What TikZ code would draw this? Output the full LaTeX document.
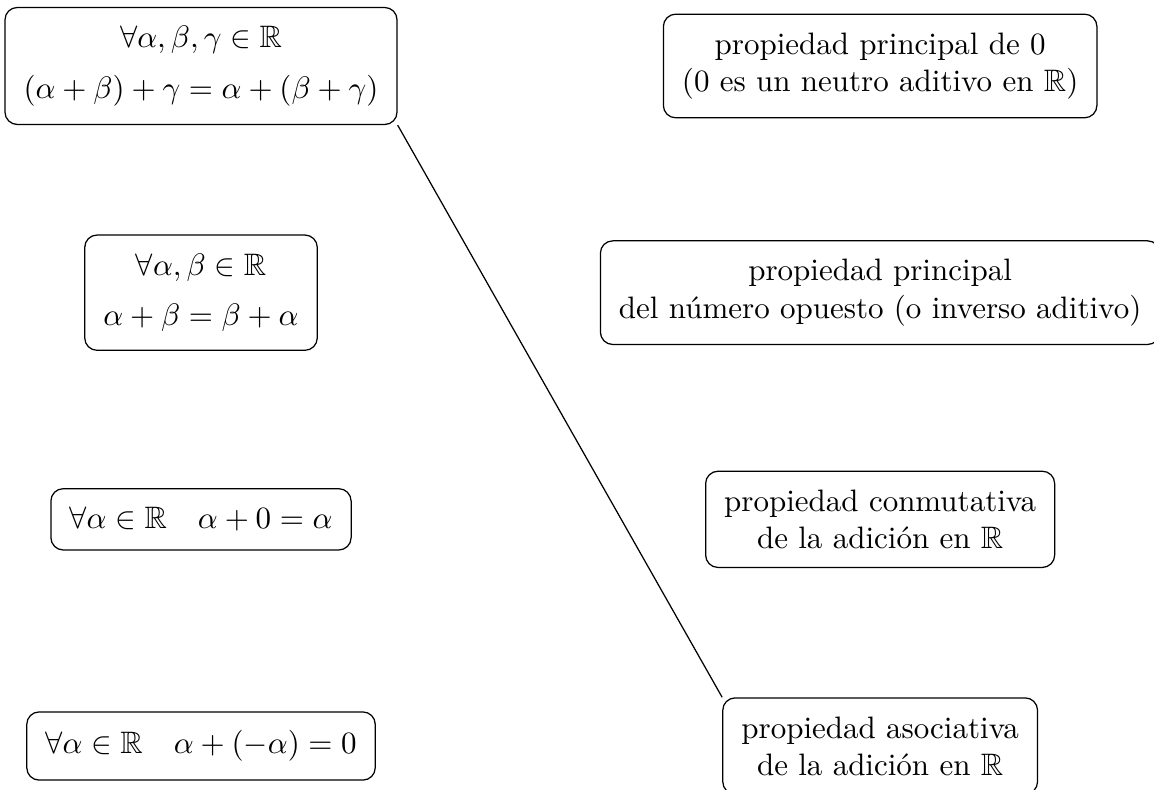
\documentclass[tikz,border=0pt]{standalone}
\usepackage{amsmath}
\usepackage{amssymb}
\usepackage{tikz}
\usetikzlibrary{positioning}

\begin{document}
\begin{tikzpicture}[
    prop/.style={
        draw=black,
        rounded corners,
        align=center,
        inner sep=6pt
    },
    enlace/.style={draw=black, thin}
]

\useasboundingbox (-2.279,0.748) rectangle (10.805,-8.198);

% formulas
\node[prop] (asoc) at (0, 0) {$\forall\alpha,\beta,\gamma\in\mathbb{R}$\\[1ex]$(\alpha+\beta)+\gamma=\alpha+(\beta+\gamma)$};
\node[prop] (conm) at (0, -2.57) {$\forall\alpha,\beta\in\mathbb{R}$\\[1ex]$\alpha+\beta=\beta+\alpha$};
\node[prop] (neutro) at (0, -5.14) {$\forall\alpha\in\mathbb{R}\quad\alpha+0=\alpha$};
\node[prop] (opuesto) at (0, -7.71) {$\forall\alpha\in\mathbb{R}\quad\alpha+(-\alpha)=0$};

% nombres
\node[prop] (pNeutro) at (7.7, 0) {propiedad principal de 0\\(0 es un neutro aditivo en $\mathbb{R}$)};
\node[prop] (pOpuesto) at (7.7, -2.57) {propiedad principal\\del número opuesto (o inverso aditivo)};
\node[prop] (pConm) at (7.7, -5.14) {propiedad conmutativa\\de la adición en $\mathbb{R}$};
\node[prop] (pAsoc) at (7.7, -7.71) {propiedad asociativa\\de la adición en $\mathbb{R}$};

\path[enlace] (asoc.south east) -- (pAsoc.north west);

\end{tikzpicture}
\end{document}
